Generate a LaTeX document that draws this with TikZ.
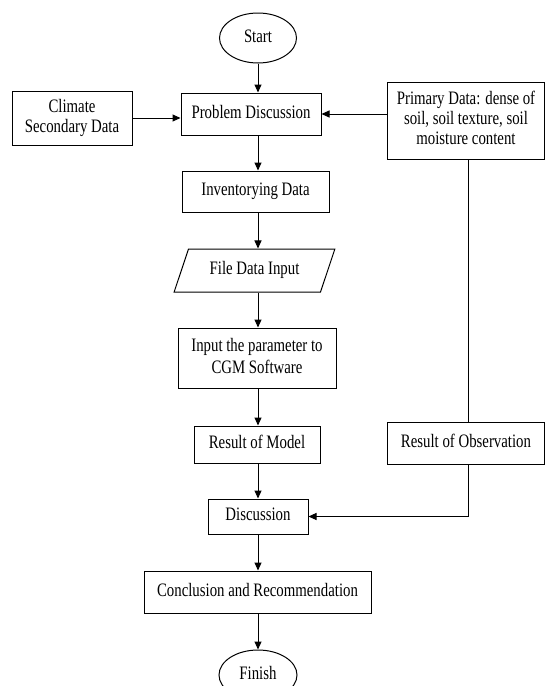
\documentclass[tikz,border=0pt]{standalone}
\usepackage{fontspec}
\usepackage{graphicx}
\setmainfont{Liberation Serif}
\usetikzlibrary{arrows.meta,shapes.geometric}
\newcommand{\tx}[2][20]{\scalebox{0.78}[1]{\fontsize{19}{#1}\selectfont\begin{tabular}{@{}c@{}}#2\end{tabular}}}
\tikzset{
  box/.style={draw, line width=1pt, rectangle, inner sep=0pt, align=center},
  term/.style={draw, line width=1pt, ellipse, inner sep=0pt},
  io/.style={draw, line width=1pt, trapezium, trapezium left angle=64, trapezium right angle=116, trapezium stretches=true, inner sep=0pt},
  arr/.style={line width=1pt, -{Triangle[length=8pt,width=7pt]}},
  ln/.style={line width=1pt}
}
\begin{document}
\begin{tikzpicture}[x=1pt,y=-1pt]
\useasboundingbox (0,0) rectangle (546,686);
\fill[white] (0,0) rectangle (546,686);
\node[term, minimum width=77pt, minimum height=50pt] (start) at (258,38) {\tx{Start}};
\node[box, minimum width=120pt, minimum height=54pt] (climate) at (72,118) {\tx{Climate\\Secondary Data}};
\node[box, minimum width=140pt, minimum height=42pt] (pd) at (251,114) {\tx{Problem Discussion}};
\node[box, minimum width=157pt, minimum height=77pt] (primary) at (466,120.5) {\tx{Primary Data: dense of\\soil, soil texture, soil\\moisture content}};
\node[box, minimum width=147pt, minimum height=41pt] (inv) at (255.5,191.5) {\tx{Inventorying Data}};
\node[io, minimum width=161pt, minimum height=43pt] (file) at (254.5,270.5) {\tx{File Data Input}};
\node[box, minimum width=158pt, minimum height=60pt] (input) at (257,358) {\tx[22]{Input the parameter to\\CGM Software}};
\node[box, minimum width=126pt, minimum height=37pt] (rom) at (257,444.5) {\tx{Result of Model}};
\node[box, minimum width=157pt, minimum height=42pt] (roo) at (466,443) {\tx{Result of Observation}};
\node[box, minimum width=100pt, minimum height=35pt] (disc) at (258,516.5) {\tx{Discussion}};
\node[box, minimum width=227pt, minimum height=42pt] (concl) at (257.5,592) {\tx{Conclusion and Recommendation}};
\node[term, minimum width=78pt, minimum height=50pt] (finish) at (258,675) {\tx{Finish}};
\coordinate (ax) at (258,0);
\draw[arr] (start.south) -- (start.south |- pd.north);
\draw[arr] (climate.east) -- (climate.east -| pd.west);
\draw[arr] (primary.west |- pd.east) -- (pd.east);
\draw[arr] (pd.south -| ax) -- (inv.north -| ax);
\draw[arr] (inv.south -| ax) -- (file.north -| ax);
\draw[arr] (file.south -| ax) -- (input.north -| ax);
\draw[arr] (input.south -| ax) -- (rom.north -| ax);
\draw[arr] (rom.south -| ax) -- (disc.north -| ax);
\draw[arr] (disc.south -| ax) -- (concl.north -| ax);
\draw[arr] (concl.south -| ax) -- (finish.north -| ax);
\draw[ln] ([xshift=2pt]primary.south) -- ([xshift=2pt]roo.north);
\draw[arr] ([xshift=2pt]roo.south) |- (disc.east);
\end{tikzpicture}
\end{document}
